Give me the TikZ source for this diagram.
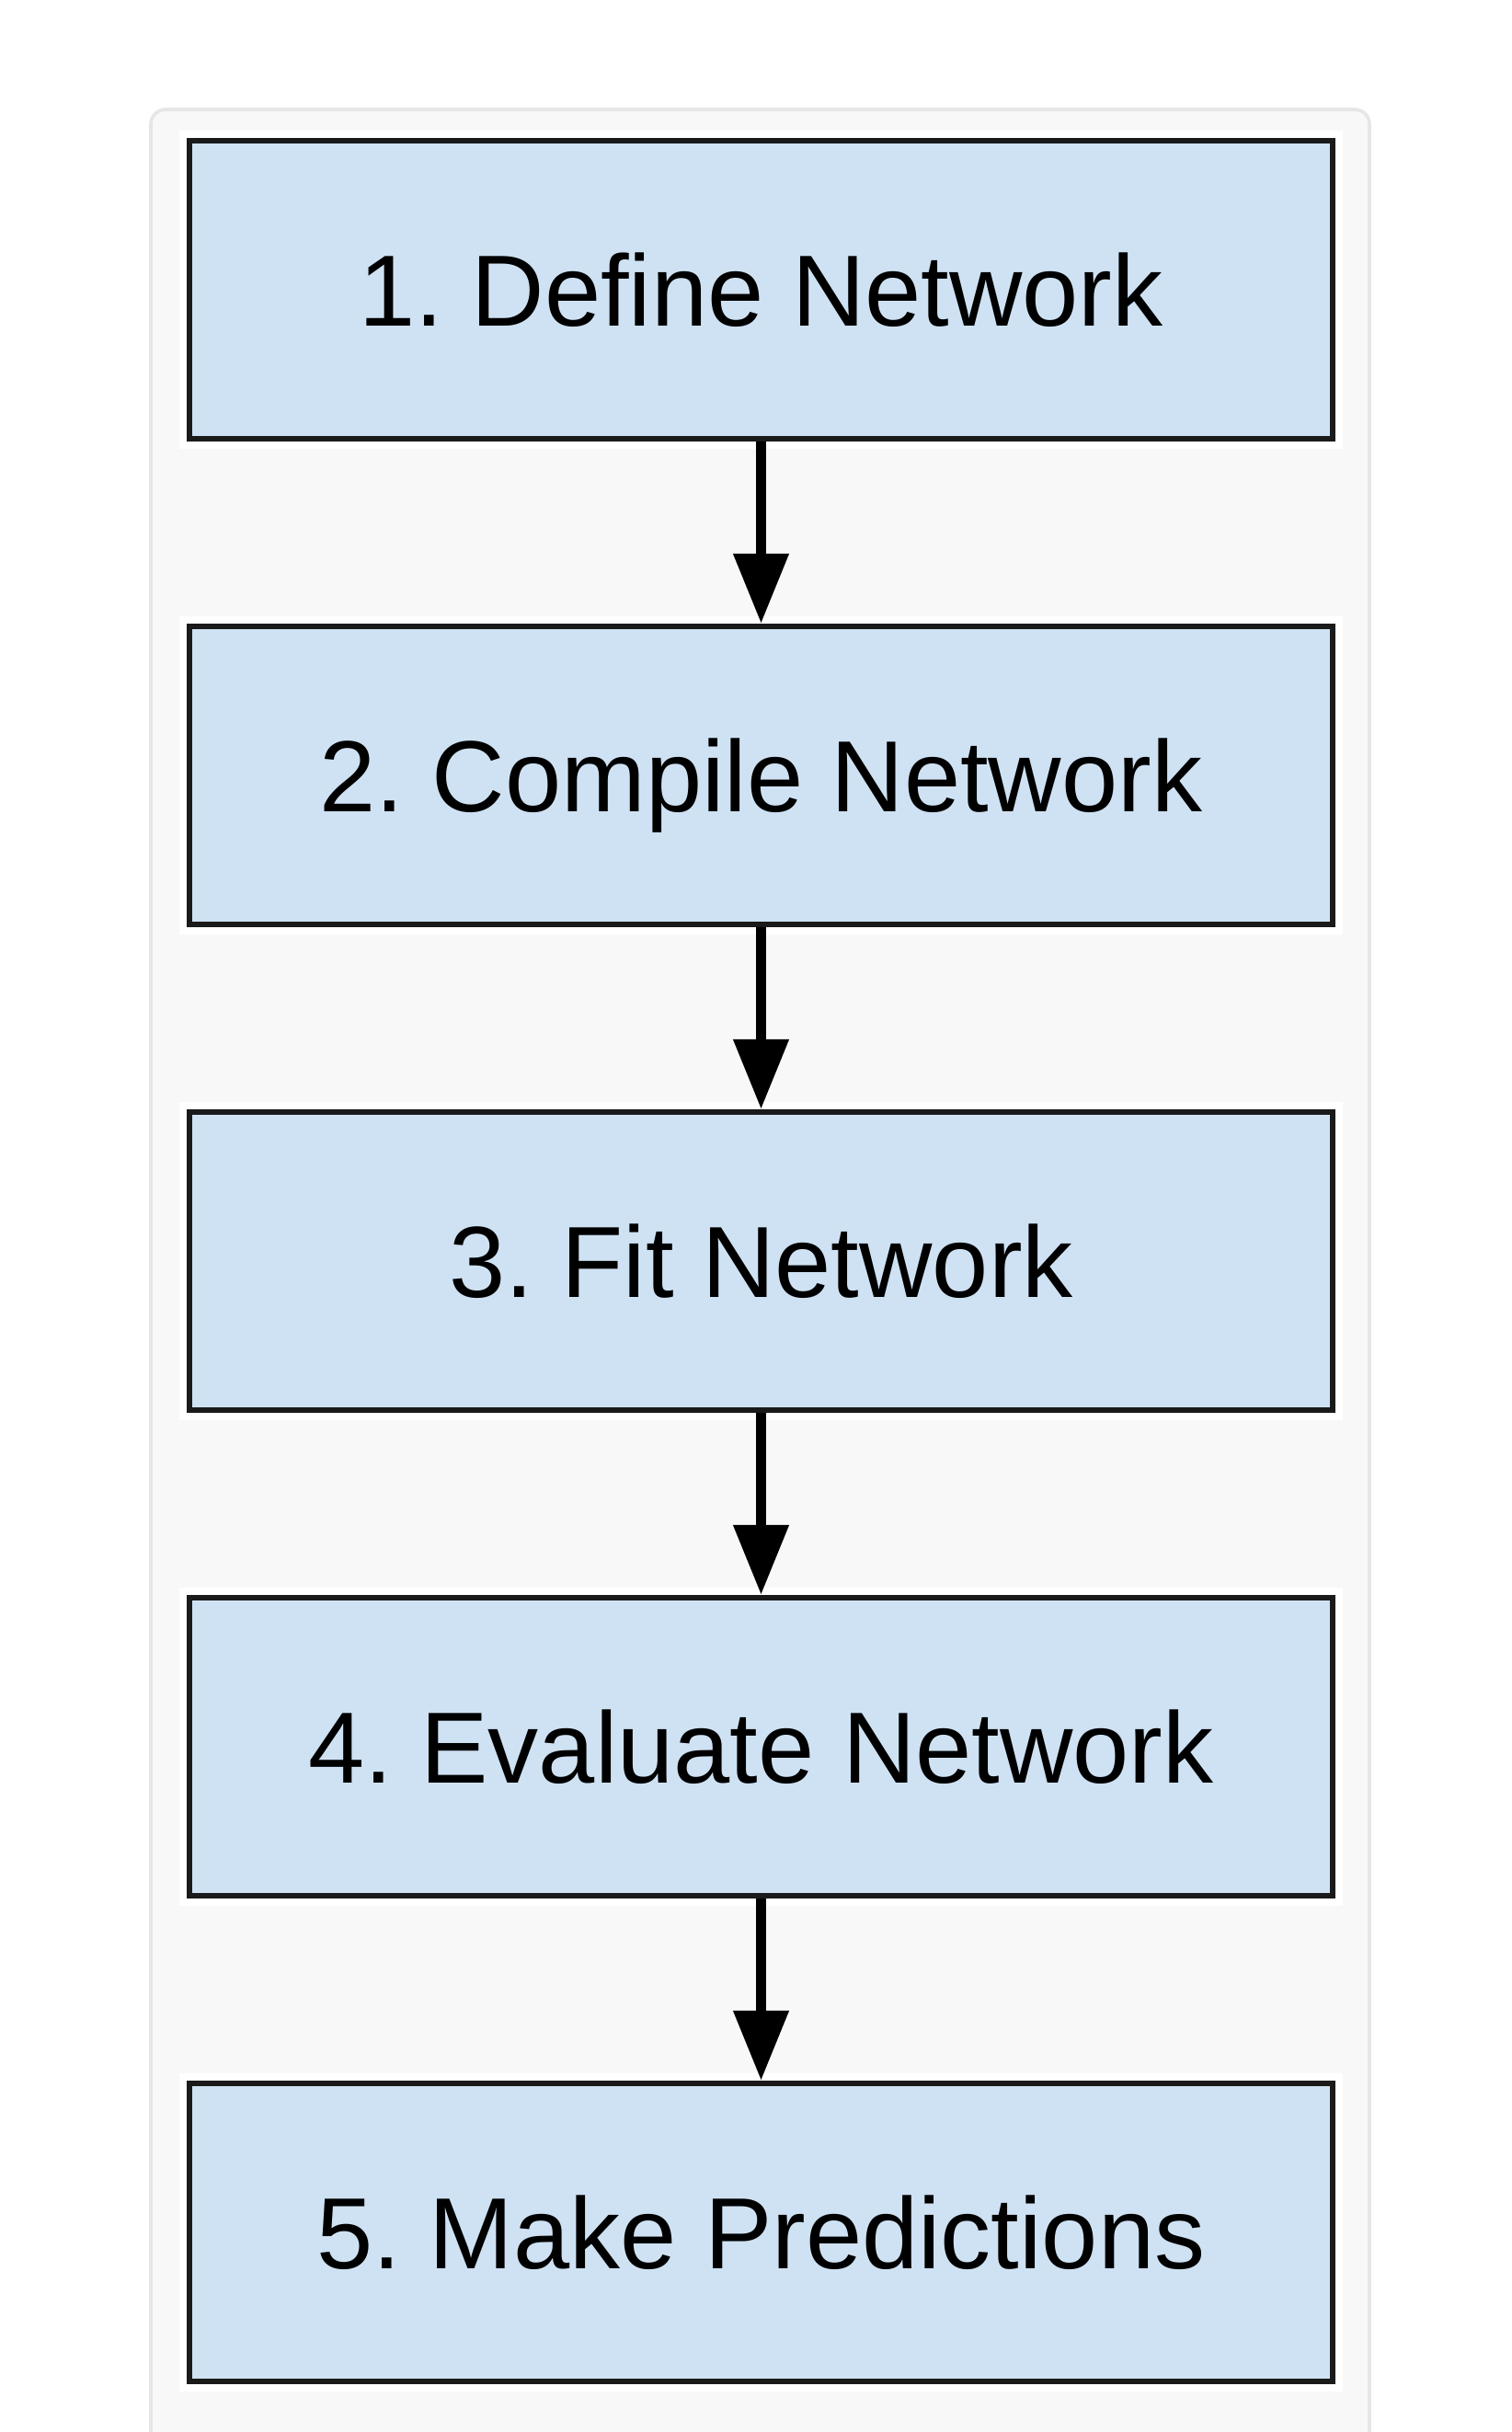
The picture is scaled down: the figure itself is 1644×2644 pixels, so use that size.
\documentclass[tikz,border=0pt]{standalone}
\usepackage{fontspec}
\setmainfont{Liberation Sans}
\usetikzlibrary{arrows.meta}
\definecolor{boxfill}{HTML}{CFE2F3}
\definecolor{boxline}{HTML}{1A1A1A}
\definecolor{panelfill}{HTML}{F8F8F8}
\definecolor{panelline}{HTML}{E6E6E6}
\frenchspacing
\tikzset{
  stepbox/.style={draw=boxline, fill=boxfill, line width=1.6pt,
    minimum width=310.75pt, minimum height=81pt, inner sep=0pt,
    preaction={draw=white, line width=5.5pt},
    font=\fontsize{27.5}{33}\selectfont, text height=19.5pt, text depth=0pt},
  flow/.style={draw=black, line width=2.8pt, -{Triangle[length=19pt,width=14.5pt]}}
}
\begin{document}
\begin{tikzpicture}[x=0.25pt, y=-0.25pt]
\clip (0,0) rectangle (1644,2644);
\fill[white] (0,0) rectangle (1644,2644);
\draw[panelline, fill=panelfill, line width=0.9pt, rounded corners=4pt] (164,119) rectangle (1489,2720);
\node[stepbox] (b1) at (827.5,315) {1. Define Network};
\node[stepbox] (b2) at (827.5,843) {2. Compile Network};
\node[stepbox] (b3) at (827.5,1371) {3. Fit Network};
\node[stepbox] (b4) at (827.5,1899) {4. Evaluate Network};
\node[stepbox] (b5) at (827.5,2427) {5. Make Predictions};
\draw[flow] (b1.south) -- (b2.north);
\draw[flow] (b2.south) -- (b3.north);
\draw[flow] (b3.south) -- (b4.north);
\draw[flow] (b4.south) -- (b5.north);
\end{tikzpicture}
\end{document}
